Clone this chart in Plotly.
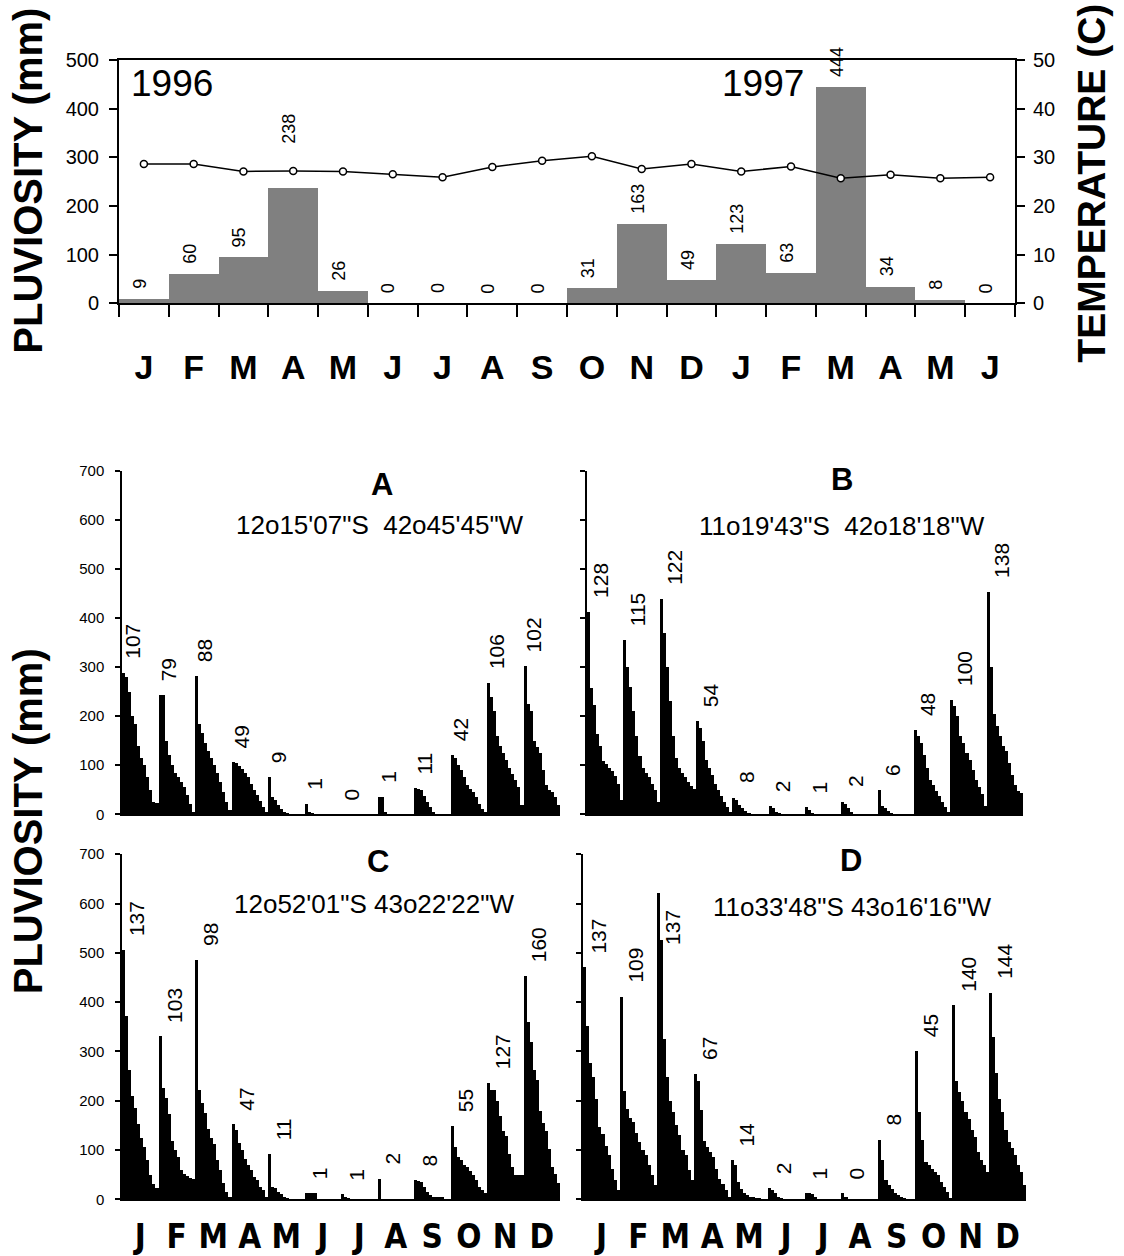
import plotly.graph_objects as go

W, H = 1124, 1256

# ---------------- data ----------------
top_months = ["J", "F", "M", "A", "M", "J", "J", "A", "S", "O", "N", "D",
              "J", "F", "M", "A", "M", "J"]
rain_monthly = [9, 60, 95, 238, 26, 0, 0, 0, 0, 31, 163, 49, 123, 63, 444, 34, 8, 0]
temperature = [28.6, 28.6, 27.1, 27.2, 27.1, 26.5, 25.9, 28.0, 29.3, 30.2, 27.6, 28.6,
               27.1, 28.1, 25.7, 26.4, 25.7, 25.9]

months12 = ["J", "F", "M", "A", "M", "J", "J", "A", "S", "O", "N", "D"]

panel_A = [
    [288, 280, 250, 200, 185, 140, 115, 100, 75, 50, 25, 22],
    [243, 243, 150, 120, 100, 85, 75, 65, 55, 40, 20, 5],
    [281, 185, 165, 145, 130, 115, 100, 85, 65, 45, 25, 8],
    [106, 104, 98, 92, 85, 75, 62, 50, 40, 28, 15, 5],
    [76, 35, 30, 18, 10, 5, 2, 0, 0, 0, 0, 0],
    [21, 5, 3, 0, 0, 0, 0, 0, 0, 0, 0, 0],
    [0, 0, 0, 0, 0, 0, 0, 0, 0, 0, 0, 0],
    [35, 35, 5, 0, 0, 0, 0, 0, 0, 0, 0, 0],
    [53, 52, 50, 38, 25, 15, 5, 0, 0, 0, 0, 0],
    [121, 115, 100, 90, 75, 60, 52, 45, 35, 20, 10, 5],
    [267, 240, 210, 160, 140, 125, 110, 95, 82, 70, 55, 18],
    [302, 225, 210, 150, 138, 125, 90, 60, 50, 45, 35, 18],
]
panel_B = [
    [412, 257, 223, 164, 140, 109, 102, 95, 88, 78, 61, 30],
    [355, 300, 260, 210, 160, 118, 95, 85, 75, 62, 50, 25],
    [440, 370, 300, 230, 160, 115, 95, 85, 75, 65, 58, 52],
    [190, 175, 150, 110, 95, 80, 62, 50, 38, 25, 15, 5],
    [34, 30, 18, 12, 6, 2, 0, 0, 0, 0, 0, 0],
    [16, 12, 5, 2, 0, 0, 0, 0, 0, 0, 0, 0],
    [14, 8, 3, 0, 0, 0, 0, 0, 0, 0, 0, 0],
    [26, 20, 12, 5, 0, 0, 0, 0, 0, 0, 0, 0],
    [49, 16, 12, 6, 2, 0, 0, 0, 0, 0, 0, 0],
    [171, 160, 145, 120, 95, 70, 60, 48, 38, 25, 15, 5],
    [233, 220, 200, 160, 145, 125, 110, 90, 70, 55, 42, 16],
    [454, 300, 205, 180, 160, 140, 130, 105, 80, 60, 48, 43],
]
panel_C = [
    [505, 372, 262, 209, 185, 152, 125, 105, 79, 49, 30, 22],
    [330, 225, 205, 172, 119, 100, 85, 60, 52, 48, 44, 42],
    [485, 222, 195, 175, 142, 125, 112, 79, 60, 32, 15, 5],
    [152, 140, 115, 100, 82, 70, 59, 45, 39, 25, 19, 5],
    [92, 25, 22, 15, 10, 5, 2, 0, 0, 0, 0, 0],
    [12, 12, 12, 12, 0, 0, 0, 0, 0, 0, 0, 0],
    [10, 5, 2, 0, 0, 0, 0, 0, 0, 0, 0, 0],
    [42, 0, 0, 0, 0, 0, 0, 0, 0, 0, 0, 0],
    [39, 38, 35, 25, 15, 9, 5, 5, 5, 5, 0, 0],
    [149, 105, 85, 79, 70, 65, 58, 50, 39, 25, 19, 12],
    [235, 222, 222, 199, 169, 139, 129, 92, 65, 50, 49, 49],
    [453, 359, 319, 262, 242, 179, 155, 139, 102, 65, 52, 32],
]
panel_D = [
    [470, 351, 277, 247, 203, 146, 133, 109, 89, 62, 40, 19],
    [411, 220, 183, 165, 156, 135, 116, 100, 89, 69, 49, 29],
    [621, 525, 324, 247, 200, 177, 150, 130, 100, 89, 60, 39],
    [254, 240, 180, 119, 106, 95, 86, 62, 42, 30, 19, 5],
    [79, 70, 36, 20, 12, 8, 5, 5, 3, 2, 0, 0],
    [23, 18, 12, 5, 2, 0, 0, 0, 0, 0, 0, 0],
    [12, 12, 10, 5, 0, 0, 0, 0, 0, 0, 0, 0],
    [12, 5, 0, 0, 0, 0, 0, 0, 0, 0, 0, 0],
    [121, 79, 40, 29, 20, 12, 8, 5, 2, 0, 0, 0],
    [301, 177, 120, 76, 70, 62, 55, 49, 36, 25, 15, 3],
    [393, 240, 217, 200, 177, 163, 140, 126, 96, 80, 69, 56],
    [419, 328, 257, 203, 177, 140, 116, 103, 89, 70, 56, 29],
]

labels_A = [107, 79, 88, 49, 9, 1, 0, 1, 11, 42, 106, 102]
labels_B = [128, 115, 122, 54, 8, 2, 1, 2, 6, 48, 100, 138]
labels_C = [137, 103, 98, 47, 11, 1, 1, 2, 8, 55, 127, 160]
labels_D = [137, 109, 137, 67, 14, 2, 1, 0, 8, 45, 140, 144]

titles = ["A", "B", "C", "D"]
coords = ["12o15'07\"S  42o45'45\"W", "11o19'43\"S  42o18'18\"W",
          "12o52'01\"S 43o22'22\"W", "11o33'48\"S 43o16'16\"W"]

# ---------------- helpers ----------------
FONT = "Arial, 'Liberation Sans', sans-serif"
NARROW = "'Liberation Sans Narrow', 'Arial Narrow', 'DejaVu Sans Condensed', Arial, 'Liberation Sans', sans-serif"


def fx(px):
    return px / W


def fy(px):
    # vertical placement (compensates the page's small vertical offset/scale)
    return 1 - ((px - 10) / 0.983) / H


def paper_text(px, py, text, size, angle=0):
    return dict(x=fx(px), y=fy(py), xref="paper", yref="paper", text=text, textangle=angle,
                showarrow=False, xanchor="center", yanchor="middle",
                font=dict(family=FONT, size=size, color="black"))


fig = go.Figure()

# ---------------- top chart ----------------
top_x = list(range(len(top_months)))
fig.add_trace(go.Bar(x=top_x, y=rain_monthly, width=1, marker=dict(color="#808080", line=dict(width=0)),
                     xaxis="x", yaxis="y", showlegend=False))
fig.add_trace(go.Scatter(x=top_x, y=temperature, xaxis="x", yaxis="y2", mode="lines+markers",
                         line=dict(color="black", width=1.5),
                         marker=dict(symbol="circle", size=7, color="white", line=dict(color="black", width=1.5)),
                         showlegend=False))

annotations = []
extra_shift = {3: 34}
for i, v in enumerate(rain_monthly):
    annotations.append(dict(x=i, y=v, xref="x", yref="y", text=str(v), textangle=-90,
                            showarrow=False, xanchor="center", yanchor="bottom",
                            yshift=8 + extra_shift.get(i, 0), xshift=-4,
                            font=dict(family=FONT, size=18, color="black")))

annotations.append(paper_text(172, 83, "1996", 37))
annotations.append(paper_text(763, 83, "1997", 37))
annotations.append(paper_text(28, 180, "<b>PLUVIOSITY (mm)</b>", 40, -90))
annotations.append(paper_text(1092, 183, "<b>TEMPERATURE (C)</b>", 39, -90))
annotations.append(paper_text(28, 822, "<b>PLUVIOSITY (mm)</b>", 40, -90))

layout = dict(
    width=W, height=H, margin=dict(l=0, r=0, t=0, b=0),
    paper_bgcolor="white", plot_bgcolor="white", bargap=0, showlegend=False,
    xaxis=dict(domain=[fx(119), fx(1015)], range=[-0.5, len(top_months) - 0.5], anchor="y",
               tickmode="array", tickvals=top_x, ticktext=["<b>%s</b>" % m for m in top_months],
               ticks="", ticklabelstandoff=33,
               minor=dict(tickmode="linear", tick0=-0.5, dtick=1, ticks="outside", ticklen=12,
                          tickwidth=2, tickcolor="black", showgrid=False),
               showline=True, linecolor="black", linewidth=2, mirror=True, showgrid=False, zeroline=False,
               tickfont=dict(family=FONT, size=34, color="black")),
    yaxis=dict(domain=[fy(303), fy(59)], range=[0, 500], anchor="x", tickvals=[0, 100, 200, 300, 400, 500],
               ticks="outside", ticklen=8, tickwidth=2, tickcolor="black", showline=True, linecolor="black",
               linewidth=2, showgrid=False, zeroline=False, ticklabelstandoff=6,
               tickfont=dict(family=FONT, size=20, color="black")),
    yaxis2=dict(domain=[fy(303), fy(59)], range=[0, 50], anchor="x", overlaying="y", side="right",
                tickvals=[0, 10, 20, 30, 40, 50], ticks="outside", ticklen=8, tickwidth=2, tickcolor="black",
                showline=True, linecolor="black", linewidth=2, showgrid=False, zeroline=False,
                ticklabelstandoff=4, tickfont=dict(family=FONT, size=20, color="black")),
)

# ---------------- bottom panels ----------------
panels = [panel_A, panel_B, panel_C, panel_D]
labels = [labels_A, labels_B, labels_C, labels_D]
xdom = [(122, 560), (587, 1023), (122, 560), (583, 1026)]
ydom = [(815, 471), (815, 471), (1201, 855), (1201, 855)]
title_pos = [(382, 485), (842, 480), (378, 862), (851, 861)]
coord_pos = [(380, 525), (842, 526), (374, 905), (852, 908)]
label_xshift = [-8, -4, -3, -3]
label_yshift_override = {(3, 2): -54}

for p, (data, labs) in enumerate(zip(panels, labels)):
    n = len(data[0])
    xs, ys = [], []
    for m, vals in enumerate(data):
        for i, v in enumerate(vals):
            xs.append(m * n + i)
            ys.append(v)
    ax = p + 3
    fig.add_trace(go.Bar(x=xs, y=ys, width=1, marker=dict(color="black", line=dict(width=0)),
                         xaxis="x%d" % ax, yaxis="y%d" % ax, showlegend=False))
    show_months = p >= 2
    layout["xaxis%d" % ax] = dict(
        domain=[fx(xdom[p][0]), fx(xdom[p][1])], range=[-0.5, 12 * n - 0.5], anchor="y%d" % ax,
        tickmode="array", tickvals=[m * n + (n - 1) / 2 for m in range(12)],
        ticktext=["<b>%s</b>" % m for m in months12], showticklabels=show_months, ticks="",
        ticklabelstandoff=7,
        showline=True, linecolor="black", linewidth=1.5, showgrid=False, zeroline=False,
        tickfont=dict(family=NARROW, size=33, color="black"))
    layout["yaxis%d" % ax] = dict(
        domain=[fy(ydom[p][0]), fy(ydom[p][1])], range=[0, 700], anchor="x%d" % ax,
        tickvals=[0, 100, 200, 300, 400, 500, 600, 700], ticks="outside", ticklen=5, tickwidth=1.5,
        tickcolor="black", showline=True, linecolor="black", linewidth=1.5, showgrid=False, zeroline=False,
        showticklabels=(p % 2 == 0), ticklabelstandoff=8,
        tickfont=dict(family=FONT, size=15, color="black"))
    for m, (vals, lab) in enumerate(zip(data, labs)):
        annotations.append(dict(x=m * n + (n - 1) / 2, y=max(vals), xref="x%d" % ax, yref="y%d" % ax,
                                text=str(lab), textangle=-90, showarrow=False, xanchor="center",
                                yanchor="bottom", yshift=label_yshift_override.get((p, m), 12),
                                xshift=label_xshift[p],
                                font=dict(family=FONT, size=21, color="black")))
    annotations.append(paper_text(title_pos[p][0], title_pos[p][1], "<b>%s</b>" % titles[p], 31))
    annotations.append(paper_text(coord_pos[p][0], coord_pos[p][1], coords[p], 26))

layout["annotations"] = annotations
fig.update_layout(**layout)
fig.write_html("out.html")
